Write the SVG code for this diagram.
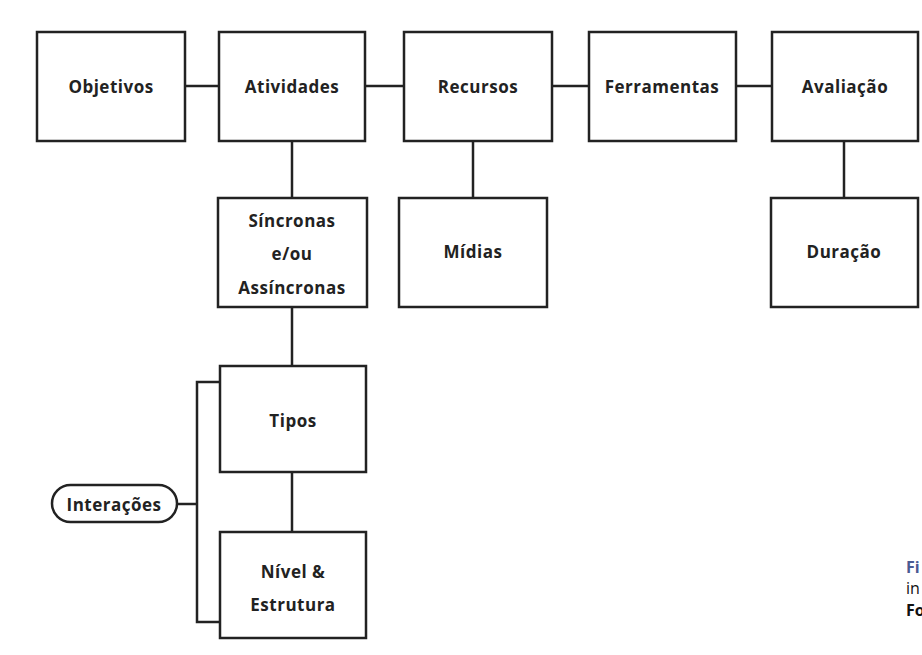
<svg xmlns="http://www.w3.org/2000/svg" width="922" height="655" viewBox="0 0 922 655">
  <style>
    .box { fill: #ffffff; stroke: #222222; stroke-width: 2.5; }
    .link { fill: none; stroke: #222222; stroke-width: 2.5; }
    .lbl { font-family: "Open Sans", "Noto Sans", sans-serif; font-weight: 700; font-size: 17px; letter-spacing: 0.5px; fill: #222222; text-anchor: middle; dominant-baseline: central; }
    .cap { font-family: "Open Sans", "Noto Sans", sans-serif; font-size: 16px; }
    .cap-num { fill: #4a5a92; font-weight: 700; }
    .cap-txt { fill: #111111; }
    .cap-src { fill: #111111; font-weight: 700; }
  </style>
  <rect width="922" height="655" fill="#ffffff"/>

  <!-- connectors -->
  <g id="connectors">
    <line class="link" x1="185" y1="86" x2="219" y2="86"/>
    <line class="link" x1="365" y1="86" x2="404" y2="86"/>
    <line class="link" x1="552" y1="86" x2="589" y2="86"/>
    <line class="link" x1="736" y1="86" x2="772" y2="86"/>
    <line class="link" x1="292" y1="141" x2="292" y2="198"/>
    <line class="link" x1="473" y1="141" x2="473" y2="198"/>
    <line class="link" x1="844" y1="141" x2="844" y2="198"/>
    <line class="link" x1="292" y1="307" x2="292" y2="366"/>
    <line class="link" x1="292" y1="472" x2="292" y2="532"/>
    <polyline class="link" points="220,382 197,382 197,622 220,622"/>
    <line class="link" x1="177" y1="504" x2="197" y2="504"/>
  </g>

  <g id="objetivos">
    <rect class="box" x="37" y="32" width="148" height="109"/>
    <text class="lbl" x="111" y="86">Objetivos</text>
  </g>
  <g id="atividades">
    <rect class="box" x="219" y="32" width="146" height="109"/>
    <text class="lbl" x="292" y="86">Atividades</text>
  </g>
  <g id="recursos">
    <rect class="box" x="404" y="32" width="148" height="109"/>
    <text class="lbl" x="478" y="86">Recursos</text>
  </g>
  <g id="ferramentas">
    <rect class="box" x="589" y="32" width="147" height="109"/>
    <text class="lbl" x="662" y="86">Ferramentas</text>
  </g>
  <g id="avaliacao">
    <rect class="box" x="772" y="32" width="146" height="109"/>
    <text class="lbl" x="845" y="86">Avaliação</text>
  </g>

  <g id="sincronas">
    <rect class="box" x="218" y="198" width="149" height="109"/>
    <text class="lbl" x="292" y="220">Síncronas</text>
    <text class="lbl" x="292" y="253">e/ou</text>
    <text class="lbl" x="292" y="287">Assíncronas</text>
  </g>
  <g id="midias">
    <rect class="box" x="399" y="198" width="148" height="109"/>
    <text class="lbl" x="473" y="251">Mídias</text>
  </g>
  <g id="duracao">
    <rect class="box" x="771" y="198" width="147" height="109"/>
    <text class="lbl" x="844" y="251">Duração</text>
  </g>

  <g id="tipos">
    <rect class="box" x="220" y="366" width="146" height="106"/>
    <text class="lbl" x="293" y="420">Tipos</text>
  </g>
  <g id="nivel">
    <rect class="box" x="220" y="532" width="146" height="106"/>
    <text class="lbl" x="293" y="571">Nível &amp;</text>
    <text class="lbl" x="293" y="604">Estrutura</text>
  </g>

  <g id="interacoes">
    <rect class="box" x="52" y="485" width="125" height="37" rx="18.5" ry="18.5"/>
    <text class="lbl" x="114" y="504">Interações</text>
  </g>

  <!-- caption, running off the right edge -->
  <g id="caption">
    <text class="cap cap-num" x="906" y="573">Fi</text>
    <text class="cap cap-txt" x="906" y="594">in</text>
    <text class="cap cap-src" x="906" y="616">Fo</text>
  </g>
</svg>
